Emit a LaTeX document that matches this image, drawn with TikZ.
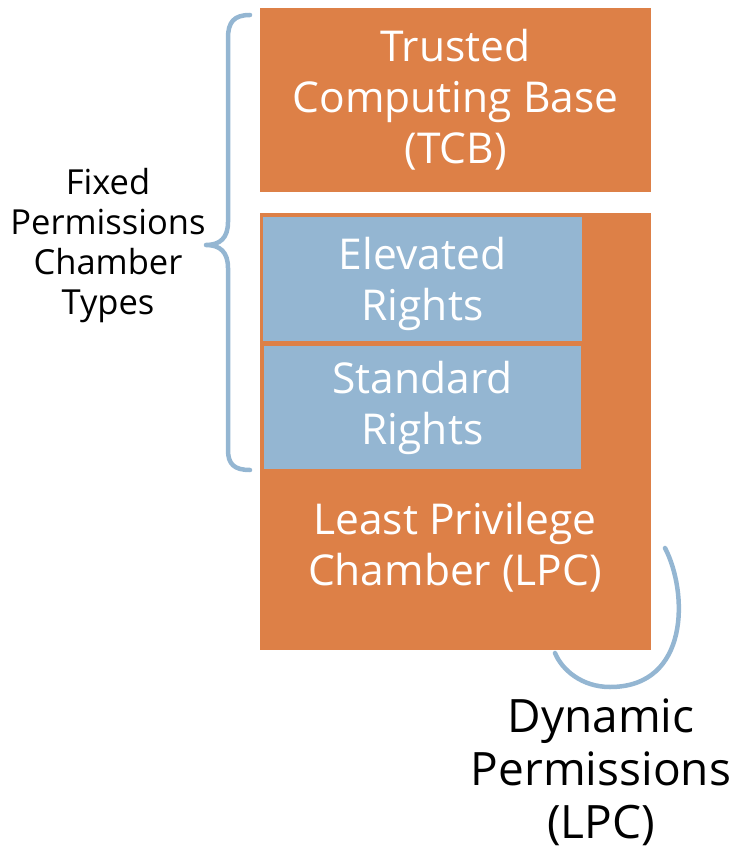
\documentclass[tikz,border=0pt]{standalone}
\usepackage{fontspec}
\setmainfont{Open Sans}
\definecolor{borange}{HTML}{DD8047}
\definecolor{bblue}{HTML}{94B6D2}
\tikzset{
  obox/.style={fill=borange, draw=none, inner sep=0pt},
  bbox/.style={fill=bblue, draw=none, inner sep=0pt},
  wtext/.style={text=white, align=center, font=\fontsize{42.5}{51}\selectfont},
  ltext/.style={text=black, align=center, font=\fontsize{34.5}{40}\selectfont},
  dtext/.style={text=black, align=center, font=\fontsize{46}{53}\selectfont},
  bline/.style={draw=bblue, line width=4.5pt, line cap=round, line join=round},
}
\begin{document}
\begin{tikzpicture}[x=1pt,y=-1pt]
\useasboundingbox (0,0) rectangle (734,850);
\draw[bline] (665,548) .. controls (688,592) and (690,687) .. (610,687) .. controls (582,687) and (562,670) .. (555,653);
\node[obox, minimum width=391pt, minimum height=184pt] (tcb) at (455.5,100) {};
\node[wtext] (tcbt) at (tcb.center) {Trusted\\Computing Base\\(TCB)};
\node[obox, minimum width=391pt, minimum height=437pt] (lpc) at (455.5,431.5) {};
\node[bbox, minimum width=319pt, minimum height=124pt] (elev) at (422.5,279) {};
\node[wtext] (elevt) at (422.5,284) {Elevated\\Rights};
\node[bbox, minimum width=317pt, minimum height=123pt] (std) at (422.5,407.5) {};
\node[wtext] (stdt) at (422.5,408) {Standard\\Rights};
\node[wtext] (lpct) at (455,547) {Least Privilege\\Chamber (LPC)};
\draw[bline] (250,15) .. controls (234,15) and (228,22) .. (228,38) -- (228,222) .. controls (228,238) and (220,245) .. (206,245) .. controls (220,245) and (228,252) .. (228,268) -- (228,450) .. controls (228,464) and (234,470) .. (250,470);
\node[ltext] (fixed) at (108,246) {Fixed\\Permissions\\Chamber\\Types};
\node[dtext] (dyn) at (601,772) {Dynamic\\Permissions\\(LPC)};
\end{tikzpicture}
\end{document}
